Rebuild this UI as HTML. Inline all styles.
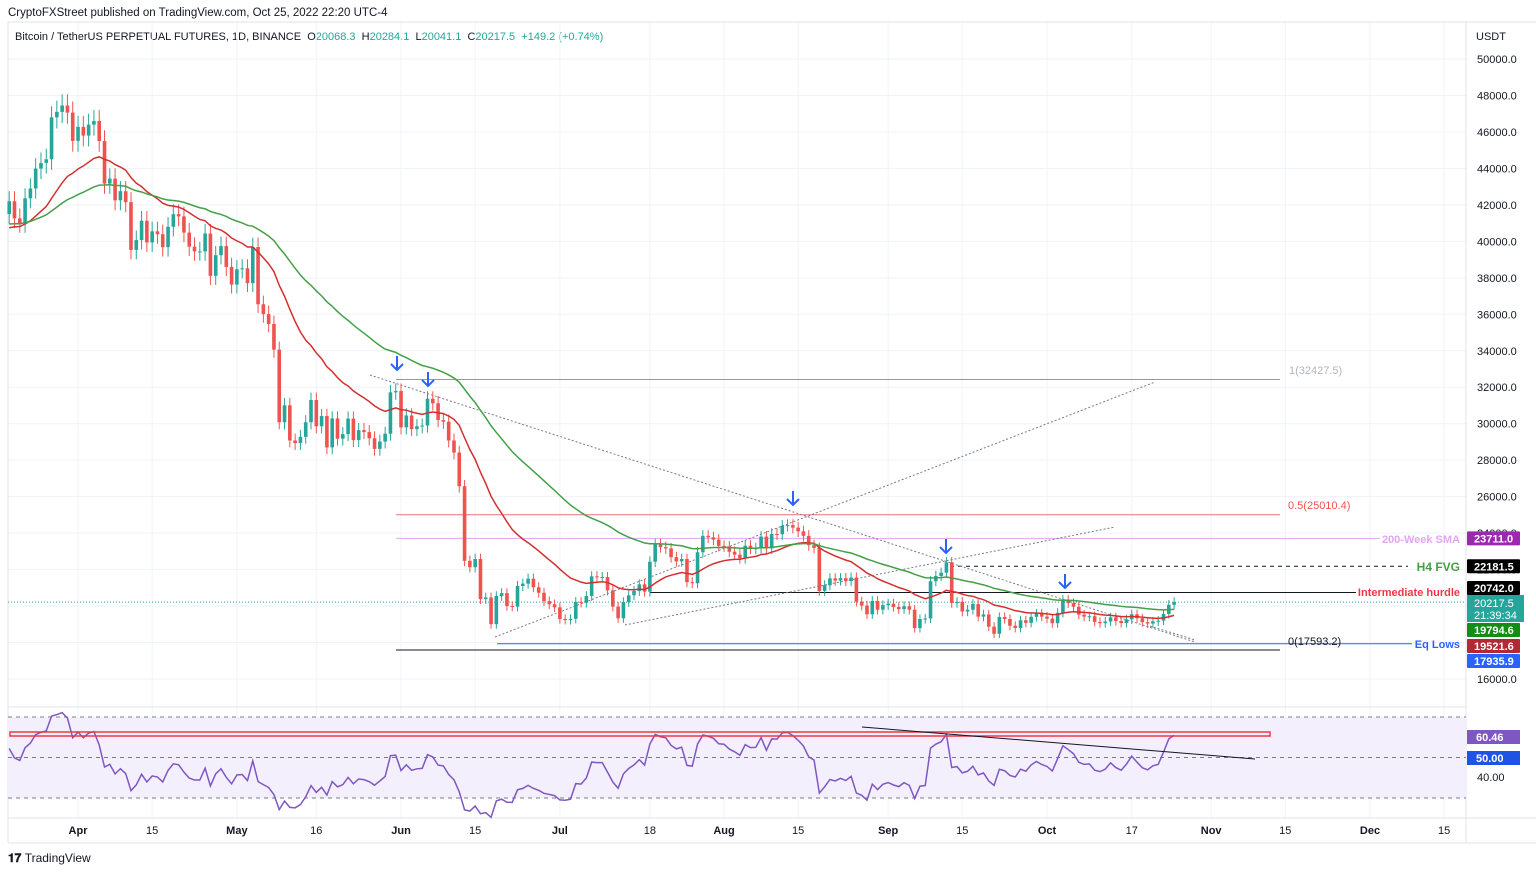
<!DOCTYPE html>
<html><head><meta charset="utf-8"><style>
body{margin:0;background:#fff;font-family:"Liberation Sans",sans-serif;}
#wrap{position:relative;width:1536px;height:874px;overflow:hidden;}
.t{position:absolute;font-size:11px;color:#131722;white-space:nowrap;}
</style></head><body>
<div id="wrap">
<div class="t" style="left:8px;top:7px;font-size:11.5px">CryptoFXStreet published on TradingView.com, Oct 25, 2022 22:20 UTC-4</div>
<div class="t" style="left:15px;top:31px;font-size:11px">Bitcoin / TetherUS PERPETUAL FUTURES, 1D, BINANCE &nbsp;O<span style="color:#26a69a">20068.3</span> &nbsp;H<span style="color:#26a69a">20284.1</span> &nbsp;L<span style="color:#26a69a">20041.1</span> &nbsp;C<span style="color:#26a69a">20217.5</span> &nbsp;<span style="color:#26a69a">+149.2 (+0.74%)</span></div>
<div class="t" style="left:1476px;top:31px;font-size:11px">USDT</div>
<div class="t" style="left:8px;top:851px;font-size:12px;font-weight:bold">𝟏𝟕 <span style="font-weight:normal">TradingView</span></div>
<svg id="svg" width="1536" height="874" style="position:absolute;left:0;top:0"></svg>
</div>
<script>
const priceTicks=[50000,48000,46000,44000,42000,40000,38000,36000,34000,32000,30000,28000,26000,24000,22000,20000,18000,16000];
const timeLabels=["Apr","15","May","16","Jun","15","Jul","18","Aug","15","Sep","15","Oct","17","Nov","15","Dec","15"];
const timeLabelDays=[13,27,43,58,74,88,104,121,135,149,166,180,196,212,227,241,257,271];
const closes=[42200,41260,41000,42360,42900,43990,44300,44500,46800,47100,47450,47060,45510,
46280,45800,46400,46600,45500,43170,43440,42250,42750,42150,39530,40070,41130,39940,40550,40390,39680,40800,41490,41370,40480,39710,39450,39450,40430,38110,39240,39740,38600,37630,
38470,38520,37710,39690,36550,36010,35470,34060,30080,31010,29080,28940,29280,30080,31300,29860,30420,28700,30290,29180,29430,30280,29100,29650,29540,29200,28620,29020,29450,31720,31790,
29800,30450,29700,29860,29900,31370,31120,30200,30110,29080,28420,26570,22480,22130,22580,20380,20470,19010,20550,20710,20000,19970,21100,21230,21500,21030,20730,20270,20100,19930,
19290,19240,19300,20230,20180,20550,21630,21590,21590,20860,19970,19330,20220,20590,20830,21190,20790,22430,23390,23230,23160,22680,22450,22580,21310,21250,22950,23850,23770,23640,23300,
23270,22980,22820,22620,23310,23150,23170,23810,23160,23950,23940,24400,24440,24300,24100,23850,23340,23190,20830,21140,21520,21400,21530,21370,21560,20240,20030,19550,20280,19800,20050,
20130,19950,19830,19990,19800,18790,19290,19320,21360,21650,21830,22400,20170,20230,19700,19800,20110,19420,19540,18870,18480,19400,19290,18920,18800,19220,19080,19410,19590,19420,
19310,19060,19630,20340,20160,19960,19530,19420,19440,19130,19060,19150,19380,19180,19070,19270,19550,19330,19120,19040,19160,19200,19570,20068,20217];
const firstOpen=41500;
const hLines=[{p:32427.5,x1:396,x2:1280,c:"#9598a1",n:"fib-1-line"},{p:25010.4,x1:396,x2:1280,c:"#e57373",n:"fib-05-line"},{p:17593.2,x1:396,x2:1280,c:"#131722",n:"fib-0-line"},{p:23711,x1:396,x2:1380,c:"#e1a6ee",n:"sma200w-line"},{p:20742,x1:650,x2:1356,c:"#131722",n:"intermediate-hurdle-line"},{p:17935.9,x1:497,x2:1412,c:"#2962ff",n:"eq-lows-line"}];

const S=document.getElementById('svg');const NS="http://www.w3.org/2000/svg";
function el(t,a,p){const e=document.createElementNS(NS,t);for(const k in a)e.setAttribute(k,a[k]);(p||S).appendChild(e);return e;}
const y=p=>679-(p-16000)*(620/34000);
const x=i=>9.2+i*5.295;
const ry=v=>717+(70-v)*(81/40);
priceTicks.forEach(p=>{const g=el('line',{x1:8,x2:1466,y1:y(p),y2:y(p),stroke:"#f0f3fa"});
const t=el('text',{x:1477,y:y(p)+4,'font-size':11,fill:"#131722"});t.textContent=p.toFixed(1);});
timeLabelDays.forEach((d,k)=>{const g=el('line',{x1:x(d),x2:x(d),y1:22,y2:818,stroke:"#f0f3fa"});
const t=el('text',{x:x(d),y:834,'font-size':11,fill:"#131722",'text-anchor':'middle','font-weight':timeLabels[k].length>2?'bold':'normal'});t.textContent=timeLabels[k];});
[[8,22,1536,22],[1466,22,1466,843],[8,707,1466,707],[8,818,1536,818],[8,843,1536,843],[8,22,8,843]].forEach(a=>{const l=el('line',{x1:a[0],y1:a[1],x2:a[2],y2:a[3],stroke:"#e0e3eb"});});
hLines.forEach(h=>{const l=el('line',{x1:h.x1,x2:h.x2,y1:y(h.p),y2:y(h.p),stroke:h.c,'stroke-width':1});});
let l=el('line',{x1:950,x2:1408,y1:y(22181.5),y2:y(22181.5),stroke:"#131722",'stroke-dasharray':'4 4'});
l=el('line',{x1:8,x2:1466,y1:y(20217.5),y2:y(20217.5),stroke:"#26a69a",'stroke-dasharray':'1 2'});
[[370,375,1195,642],[495,637,1155,382],[625,625,1115,527],[1150,626,1195,640]].forEach(a=>{const t=el('line',{x1:a[0],y1:a[1],x2:a[2],y2:a[3],stroke:"#787b86",'stroke-dasharray':'2 2'});});
let prev=firstOpen;
closes.forEach((c,i)=>{const o=prev;prev=c;const up=c>=o;const col=up?"#26a69a":"#ef5350";const hi=Math.max(o,c)*1.013,lo=Math.min(o,c)*0.987;
const w=el('line',{x1:x(i),x2:x(i),y1:y(hi),y2:y(lo),stroke:col});
const b=el('rect',{x:x(i)-1.8,width:3.6,y:y(Math.max(o,c)),height:Math.max(1,Math.abs(y(o)-y(c))),fill:col});});
function ema(n,seed){let e=seed,out=[];const k=2/(n+1);closes.forEach(c=>{e=c*k+e*(1-k);out.push(e);});return out;}
[[ema(21,40600),"#d32f2f","ema-21-line"],[ema(50,40900),"#43a047","ema-50-line"]].forEach(m=>{const p=el('polyline',{points:m[0].map((v,i)=>x(i)+','+y(v)).join(' '),fill:'none',stroke:m[1],'stroke-width':1.5});});
[[397,370],[428,386],[793,505],[946,553],[1065,588]].forEach(a=>{const g=el('path',{d:`M${a[0]},${a[1]-14}V${a[1]} M${a[0]-6},${a[1]-6}L${a[0]},${a[1]}L${a[0]+6},${a[1]-6}`,stroke:"#2962ff",'stroke-width':2,fill:'none'});});
function tx(s,xx,yy,col,sz,anc,nm,bold){const t=el('text',{x:xx,y:yy,'font-size':sz,fill:col,'text-anchor':anc||'start','font-weight':bold?'bold':'normal'});t.textContent=s;}
tx("1(32427.5)",1289,374,"#b2b5be",11,'start','fib-1-label');
tx("0.5(25010.4)",1288,509,"#ef5350",11,'start','fib-05-label');
tx("0(17593.2)",1288,645,"#131722",11,'start','fib-0-label');
tx("200-Week SMA",1460,543,"#e1a6ee",11,'end','sma200w-label',true);
tx("H4 FVG",1460,571,"#43a047",12,'end','h4-fvg-label',true);
tx("Intermediate hurdle",1460,596,"#f23645",11,'end','intermediate-hurdle-label',true);
tx("Eq Lows",1460,648,"#2962ff",11,'end','eq-lows-label',true);
[[23711,"23711.0","#9c27b0"],[22181.5,"22181.5","#000"],[20742,"20742.0","#000"],[19794.6,"19794.6","#138d13"],[19521.6,"19521.6","#b22833"],[17935.9,"17935.9","#2962ff"]].forEach(b=>{let yy=y(b[0]);if(b[1]=="20742.0")yy=588;if(b[1]=="19794.6")yy=630;if(b[1]=="19521.6")yy=646;if(b[1]=="17935.9")yy=661;
const r=el('rect',{x:1467,y:yy-7,width:53,height:14,fill:b[2],rx:1});tx(b[1],1474,yy+4,"#fff",11,'start','price-axis-badge-text',true);});
const r2=el('rect',{x:1467,y:595,width:57,height:27,fill:"#26a69a"});
tx("20217.5",1474,607,"#fff",11,'start','last-price-text');tx("21:39:34",1474,619,"#fff",11,'start','countdown-text');
const band=el('rect',{x:8,y:ry(70),width:1458,height:ry(30)-ry(70),fill:"#f3effd"});
[70,50,30].forEach(v=>{const d=el('line',{x1:8,x2:1466,y1:ry(v),y2:ry(v),stroke:"#787b86",'stroke-dasharray':'4 4'});});
let ag=0,al=0,rsi=[];for(let i=0;i<closes.length;i++){const ch=i?closes[i]-closes[i-1]:closes[0]-firstOpen;const g=Math.max(ch,0),lo=Math.max(-ch,0);if(i==0){ag=400;al=380;}ag=(ag*13+g)/14;al=(al*13+lo)/14;rsi.push(100-100/(1+ag/al));}
const rp=el('polyline',{points:rsi.map((v,i)=>x(i)+','+ry(v)).join(' '),fill:'none',stroke:"#7e57c2",'stroke-width':1.5});
const rr=el('rect',{x:10,y:732,width:1260,height:4,fill:'none',stroke:"#f23645",'stroke-width':1.5});
const rl=el('line',{x1:862,y1:727,x2:1255,y2:759,stroke:"#131722"});
tx("40.00",1477,781,"#131722",11,'start','rsi-tick-label');
const rb1=el('rect',{x:1467,y:730,width:53,height:14,fill:"#7e57c2"});tx("60.46",1476,741,"#fff",11,'start','rsi-value-text',true);
const rb2=el('rect',{x:1467,y:751,width:53,height:14,fill:"#1e53e5"});tx("50.00",1476,762,"#fff",11,'start','rsi-50-text',true);
</script>
</body></html>
